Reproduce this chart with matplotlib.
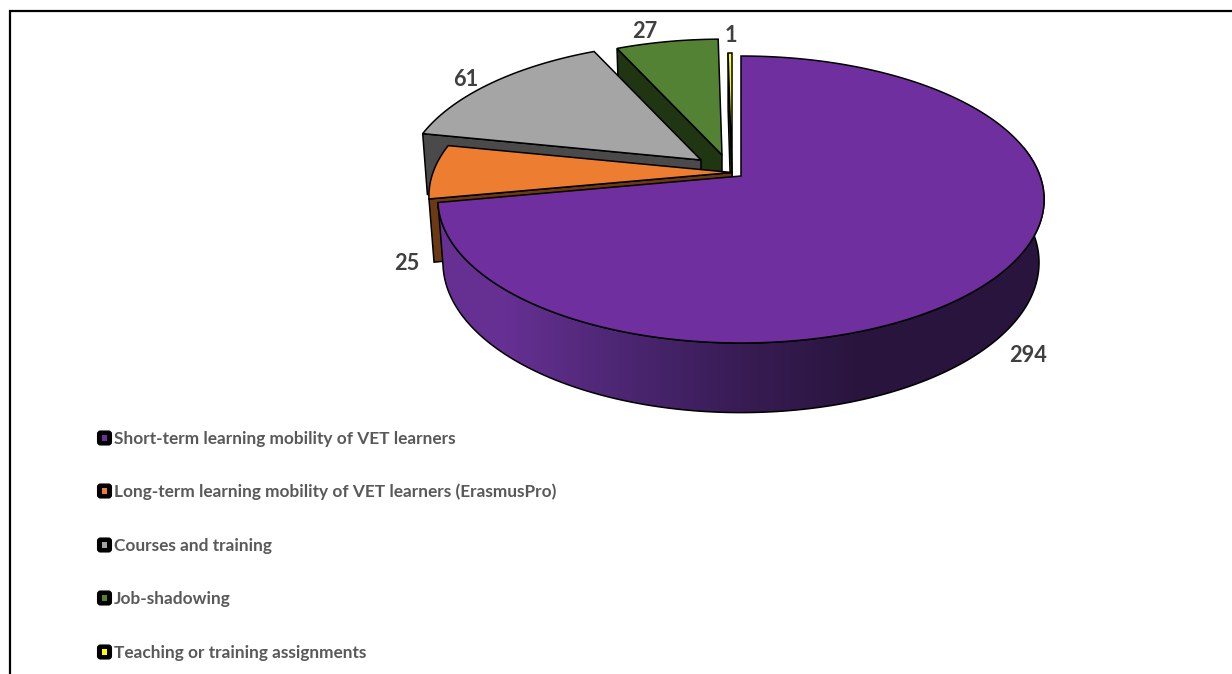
import numpy as np
import matplotlib
matplotlib.use('Agg')
import matplotlib.pyplot as plt
from matplotlib.patches import Polygon, FancyBboxPatch, Rectangle

categories = ['Short-term learning mobility of VET learners',
              'Long-term learning mobility of VET learners (ErasmusPro)',
              'Courses and training',
              'Job-shadowing',
              'Teaching or training assignments']
values = [294, 25, 61, 27, 1]
top_colors = ['#6F2F9F', '#ED7D31', '#A5A5A5', '#548235', '#FFFF00']
wall_colors = ['#3A1A55', '#6B3A14', '#4A4A4A', '#203512', '#5A5A00']

# where each slice's tip sits once pulled out of the pie, and its size
tips = [(741, 176), (732, 172.5), (701, 160), (722, 155), (732, 173)]
scales = [1.0, 1.0, 0.98, 0.96, 1.0]
label_pos = [(1028, 355.5), (407, 263.5), (466, 79.5), (645, 31.5), (731, 35.5)]
legend_y = [438, 491, 545, 598, 652]

# perspective of the disc
K = -0.1638
TOP_A, TOP_B = 299, 139.65
BOT_A, BOT_B = 294, 146
DEPTH = 62

plt.rcParams['font.family'] = ['Lato', 'DejaVu Sans']

fig = plt.figure(figsize=(12.32, 6.74), dpi=100)
ax = fig.add_axes([0, 0, 1, 1])
ax.set_xlim(0, 1232)
ax.set_ylim(674, 0)
ax.axis('off')


def project(deg, tip, scale=1.0, low=False):
    # deg is clockwise from twelve o'clock
    t = np.radians(deg)
    x = np.sin(t) * scale
    y = -np.cos(t) * scale
    d = 1 + K * y
    if low:
        return tip[0] + BOT_A * x / d, tip[1] + DEPTH + BOT_B * y / d
    return tip[0] + TOP_A * x / d, tip[1] + TOP_B * y / d


def arc(a, b, tip, scale=1.0, low=False):
    angles = np.linspace(a, b, max(int(abs(b - a) * 2), 3))
    xs, ys = project(angles, tip, scale, low)
    return np.column_stack([xs, ys])


total = sum(values)
edges = np.concatenate([[0], np.cumsum(values)]) / total * 360

# back slices first, the big one goes on top of everything
for i in [4, 3, 2, 1, 0]:
    tip, s = tips[i], scales[i]
    a, b = edges[i], edges[i + 1]
    if i > 0:
        # cut face along the leading edge of the slice
        p0 = project(a, tip, s)
        p1 = project(a, tip, s, low=True)
        wall = [tip, p0, p1, (tip[0], tip[1] + DEPTH)]
        ax.add_patch(Polygon(wall, closed=True, fc=wall_colors[i], ec='black', lw=1.1, zorder=2 + (4 - i)))
    else:
        # outer rim of the big slice, shaded left to right
        upper = arc(78, b, tip)
        lower = arc(b, 78, tip, low=True)
        rim = Polygon(np.vstack([upper, lower]), closed=True, fc='none', ec='black', lw=1.1, zorder=8)
        ax.add_patch(rim)
        shade = np.array([[[0.40, 0.19, 0.58], [0.30, 0.15, 0.45], [0.22, 0.11, 0.33], [0.16, 0.08, 0.24], [0.16, 0.08, 0.24]]])
        im = ax.imshow(shade, extent=(440, 1045, 420, 190), aspect='auto', interpolation='bilinear', zorder=7)
        im.set_clip_path(rim)
        ax.set_xlim(0, 1232)
        ax.set_ylim(674, 0)
    face = np.vstack([[tip], arc(a, b, tip, s)])
    ax.add_patch(Polygon(face, closed=True, fc=top_colors[i], ec='black', lw=1.1, zorder=3 + (4 - i) if i else 9))

for v, (x, y) in zip(values, label_pos):
    ax.text(x, y, str(v), ha='center', va='center', fontsize=15.7, fontweight='bold', color='#404040', zorder=10)

for name, color, y in zip(categories, top_colors, legend_y):
    ax.add_patch(FancyBboxPatch((98, y - 6.5), 13, 13, boxstyle='round,pad=0,rounding_size=2.5', fc='black', ec='black', lw=1.5, zorder=5))
    ax.add_patch(Rectangle((101.8, y - 2.7), 5.5, 5.5, fc=color, ec='none', zorder=6))
    ax.text(114, y + 1, name, ha='left', va='center', fontsize=12.4, fontweight='bold', color='#595959')

# chart frame: only the left and top sides show
ax.plot([9.5, 9.5, 1232], [674, 10.5, 10.5], color='black', lw=1.6, solid_joinstyle='miter')

fig.savefig('out.png', dpi=100)
